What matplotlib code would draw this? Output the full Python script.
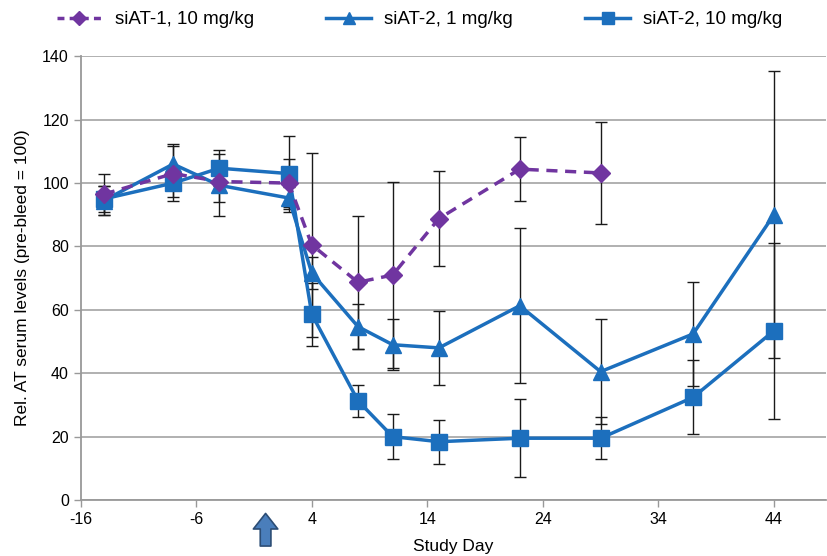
import matplotlib
matplotlib.use("Agg")
import matplotlib.pyplot as plt
from matplotlib.lines import Line2D

plt.rcParams['font.family'] = ['Liberation Sans', 'DejaVu Sans']
plt.rcParams['axes.unicode_minus'] = False

days1 = [-14, -8, -4, 2, 4, 8, 11, 15, 22, 29]
siat1_10 = [96.5, 103, 100.5, 100, 80.5, 68.7, 71, 88.8, 104.4, 103.2]
siat1_10_err = [6.5, 8.6, 6.5, 7.5, 29, 21, 29.3, 15, 10, 16]

days2 = [-14, -8, -4, 2, 4, 8, 11, 15, 22, 29, 37, 44]
siat2_1 = [94.5, 106, 99.3, 95.3, 71.6, 54.7, 49, 48, 61.3, 40.5, 52.4, 90]
siat2_1_err = [4.5, 6.4, 9.8, 3.5, 5, 7, 8, 11.7, 24.5, 16.5, 16.3, 45.3]
siat2_10 = [95, 100, 104.7, 103, 58.6, 31.3, 20, 18.4, 19.5, 19.5, 32.4, 53.4]
siat2_10_err = [4, 4.4, 5.6, 12, 10, 5, 7, 7, 12.3, 6.7, 11.7, 27.7]

labels = ['siAT-1, 10 mg/kg', 'siAT-2, 1 mg/kg', 'siAT-2, 10 mg/kg']
xticks = [-16, -6, 4, 14, 24, 34, 44]
yticks = [0, 20, 40, 60, 80, 100, 120, 140]

purple = '#7035A0'
blue = '#1C6FBD'

fig = plt.figure(figsize=(8.28, 5.56), dpi=100)
ax = fig.add_axes([0.0975, 0.1007, 0.9, 0.798])

ekw = dict(fmt='none', ecolor='#1a1a1a', elinewidth=1.0, capsize=4.5, capthick=1.0, zorder=2)
ax.errorbar(days1, siat1_10, yerr=siat1_10_err, **ekw)
ax.errorbar(days2, siat2_1, yerr=siat2_1_err, **ekw)
ax.errorbar(days2, siat2_10, yerr=siat2_10_err, **ekw)

ax.plot(days1, siat1_10, color=purple, lw=2.5, ls=(0, (3.2, 2.2)), marker='D', ms=9,
        mfc=purple, mec=purple, zorder=4, label=labels[0])
ax.plot(days2, siat2_1, color=blue, lw=2.5, marker='^', ms=12, mfc=blue, mec=blue,
        zorder=3, label=labels[1])
ax.plot(days2, siat2_10, color=blue, lw=2.5, marker='s', ms=11, mfc=blue, mec=blue,
        zorder=3, label=labels[2])

ax.set_xlim(-16, 48.5)
ax.set_ylim(0, 140)
ax.set_xticks(xticks)
ax.set_yticks(yticks)
ax.tick_params(axis='both', labelsize=11.5, color='#999999', length=5, width=1)
ax.yaxis.grid(True, color='#aaaaaa', lw=1.3)
ax.set_axisbelow(True)
for s in ['top', 'right']:
    ax.spines[s].set_visible(False)
for s in ['left', 'bottom']:
    ax.spines[s].set_color('#999999')
    ax.spines[s].set_linewidth(1.3)

ax.set_xlabel('Study Day', fontsize=12.5, labelpad=9)
ax.set_ylabel('Rel. AT serum levels (pre-bleed = 100)', fontsize=12.5, labelpad=9)

ax.annotate('', xy=(0, -0.024), xytext=(0, -0.110),
            xycoords=('data', 'axes fraction'), textcoords=('data', 'axes fraction'),
            arrowprops=dict(arrowstyle='simple,head_length=0.7,head_width=1.1,tail_width=0.48',
                            mutation_scale=16, fc='#4A7EBB', ec='#2C4D75', lw=1.2),
            annotation_clip=False)

handles = [Line2D([], [], color=purple, lw=2.5, ls=(0, (2, 1.5)), marker='D', ms=7),
           Line2D([], [], color=blue, lw=2.5, marker='^', ms=8),
           Line2D([], [], color=blue, lw=2.5, marker='s', ms=8)]
leg = fig.legend(handles, labels, loc='upper center', bbox_to_anchor=(0.507, 1.01), ncol=3,
                 frameon=False, fontsize=13.5, columnspacing=3.85, handlelength=2.4,
                 handletextpad=0.7)

fig.savefig('out.png', dpi=100)
